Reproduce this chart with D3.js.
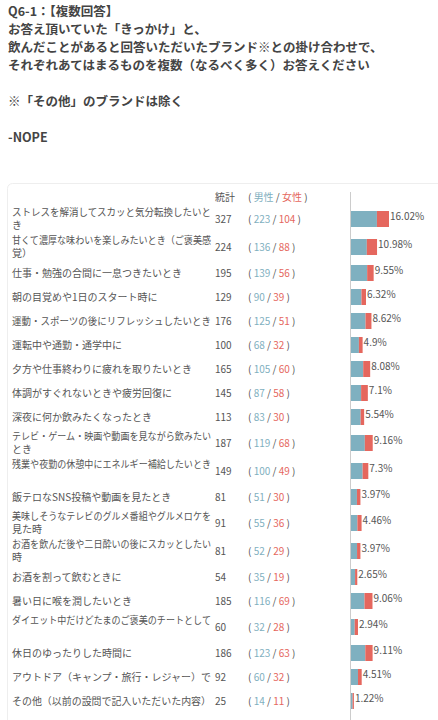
<!DOCTYPE html><html><head><meta charset="utf-8"><script src="https://cdn.jsdelivr.net/npm/d3@7"></script>
<style>body{margin:0;background:#fff;font-family:"Noto Sans CJK JP",sans-serif}</style></head><body><svg id="c" width="438" height="720"></svg>
<script>
const titleLines=["Q6-1：【複数回答】","お答え頂いていた「きっかけ」と、","飲んだことがあると回答いただいたブランド※との掛け合わせで、","それぞれあてはまるものを複数（なるべく多く）お答えください","","※「その他」のブランドは除く","","-NOPE"];
const categories=["ストレスを解消してスカッと気分転換したいとき","甘くて濃厚な味わいを楽しみたいとき（ご褒美感覚）","仕事・勉強の合間に一息つきたいとき","朝の目覚めや1日のスタート時に","運動・スポーツの後にリフレッシュしたいとき","運転中や通勤・通学中に","夕方や仕事終わりに疲れを取りたいとき","体調がすぐれないときや疲労回復に","深夜に何か飲みたくなったとき","テレビ・ゲーム・映画や動画を見ながら飲みたいとき","残業や夜勤の休憩中にエネルギー補給したいとき","飯テロなSNS投稿や動画を見たとき","美味しそうなテレビのグルメ番組やグルメロケを見た時","お酒を飲んだ後や二日酔いの後にスカッとしたい時","お酒を割って飲むときに","暑い日に喉を潤したいとき","ダイエット中だけどたまのご褒美のチートとして","休日のゆったりした時間に","アウトドア（キャンプ・旅行・レジャー）で","その他（以前の設問で記入いただいた内容）"];
const totals=[327,224,195,129,176,100,165,145,113,187,149,81,91,81,54,185,60,186,92,25];
const male=[223,136,139,90,125,68,105,87,83,119,100,51,55,52,35,116,32,123,60,14];
const female=[104,88,56,39,51,32,60,58,30,68,49,30,36,29,19,69,28,63,32,11];
const percents=[16.02,10.98,9.55,6.32,8.62,4.9,8.08,7.1,5.54,9.16,7.3,3.97,4.46,3.97,2.65,9.06,2.94,9.11,4.51,1.22];
const lineSplits=[21,22,0,0,0,0,0,0,0,22,22,0,22,22,0,0,22,0,0,0];
const svg=d3.select("#c");
const gray="#555",blue="#7fb0c0",red="#e5675e";
svg.selectAll("text.t").data(titleLines).join("text").attr("x",8).attr("y",(d,i)=>16+i*18).attr("font-size",12.5).attr("font-weight","bold").attr("fill","#444").text(d=>d);
svg.append("rect").attr("x",7.5).attr("y",183.5).attr("width",440).attr("height",545).attr("rx",5).attr("fill","#fff").attr("stroke","#eee");
svg.append("line").attr("x1",350.5).attr("x2",350.5).attr("y1",192).attr("y2",720).attr("stroke","#ccc");
const hy=201,fs=10;
svg.append("text").attr("x",215).attr("y",hy).attr("font-size",fs).attr("fill",gray).text("統計");
const h=svg.append("text").attr("x",248).attr("y",hy).attr("font-size",fs).attr("fill",gray);
h.append("tspan").text("( ");h.append("tspan").attr("fill",blue).text("男性");h.append("tspan").text(" / ");h.append("tspan").attr("fill",red).text("女性");h.append("tspan").text(" )");
let y=205;const centers=[];
categories.forEach((c,i)=>{const hh=lineSplits[i]?28:24;centers.push(y+hh/2);y+=hh;});
const x=d3.scaleLinear().domain([0,16.02]).range([0,38]);
const x0=351,maxW=199;
function fit(t){const n=t.node();if(n.getComputedTextLength()>maxW)t.attr("textLength",maxW).attr("lengthAdjust","spacingAndGlyphs");}
const g=svg.selectAll("g.r").data(categories).join("g").attr("transform",(d,i)=>`translate(0,${centers[i]})`);
g.each(function(d,i){const s=d3.select(this);
 if(lineSplits[i]){
  fit(s.append("text").attr("x",12).attr("y",-3).attr("font-size",fs).attr("fill",gray).text(d.slice(0,lineSplits[i])));
  fit(s.append("text").attr("x",12).attr("y",10).attr("font-size",fs).attr("fill",gray).text(d.slice(lineSplits[i])));
 } else fit(s.append("text").attr("x",12).attr("y",4).attr("font-size",fs).attr("fill",gray).text(d));
 s.append("text").attr("x",215).attr("y",4).attr("font-size",fs).attr("fill",gray).text(totals[i]);
 const p=s.append("text").attr("x",248).attr("y",4).attr("font-size",fs).attr("fill",gray);
 p.append("tspan").text("( ");p.append("tspan").attr("fill",blue).text(male[i]);p.append("tspan").text(" / ");p.append("tspan").attr("fill",red).text(female[i]);p.append("tspan").text(" )");
 const w=x(percents[i]),wm=w*male[i]/totals[i];
 s.append("rect").attr("x",x0).attr("y",-8).attr("width",wm).attr("height",16).attr("fill",blue);
 s.append("rect").attr("x",x0+wm).attr("y",-8).attr("width",w-wm).attr("height",16).attr("fill",red);
 s.append("text").attr("x",x0+w+1).attr("y",1).attr("font-size",fs).attr("fill",gray).text(percents[i]+"%");
});
</script></body></html>
